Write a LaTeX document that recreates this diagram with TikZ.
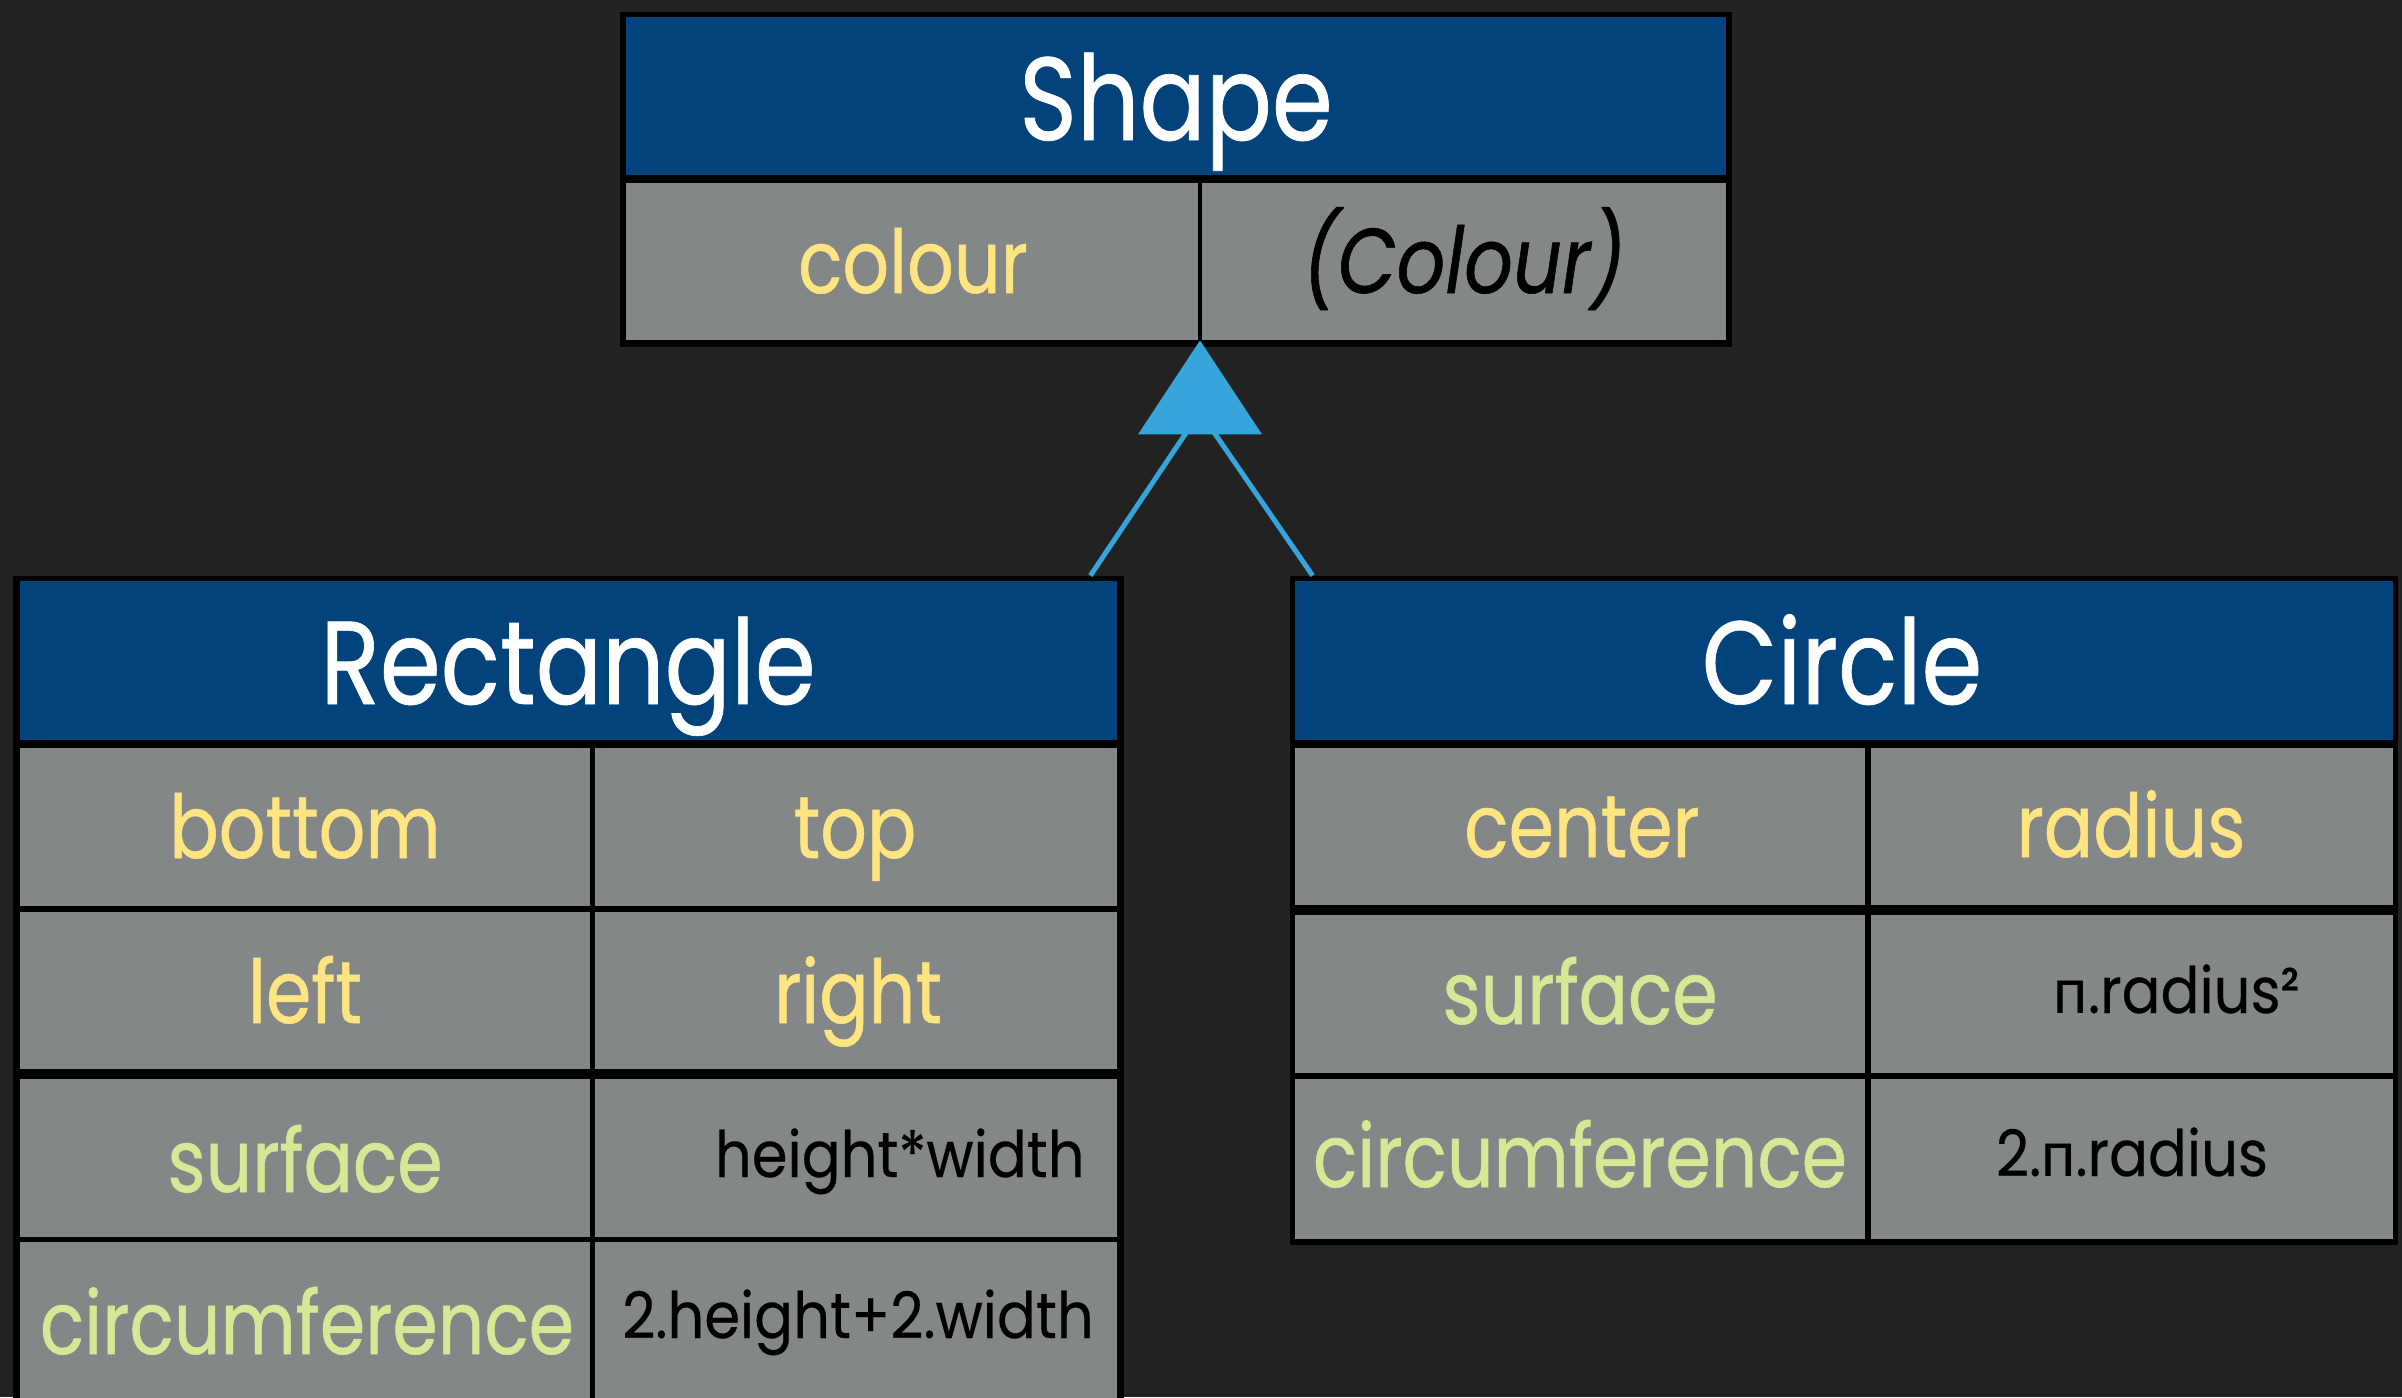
\documentclass[tikz,border=0pt]{standalone}
\usepackage{fontspec}
\setmainfont{Poppins}[FakeStretch=0.83, FakeBold=0.6]
\newfontfamily\exprfont{Poppins}[FakeStretch=0.9, FakeBold=0.3]
\newfontfamily\cyrfont{Lato}[FakeStretch=0.95]
\usetikzlibrary{fit,calc}

\definecolor{bg}{HTML}{222222}
\definecolor{headblue}{HTML}{01437A}
\definecolor{cellgray}{HTML}{838787}
\definecolor{attryellow}{HTML}{FEE582}
\definecolor{methgreen}{HTML}{D6E796}
\definecolor{linkblue}{HTML}{35A5DB}

\tikzset{
  frame/.style={fill=black, inner sep=0pt},
  head/.style={fill=headblue, inner sep=0pt},
  cell/.style={fill=cellgray, inner sep=0pt},
  title/.style={anchor=base, inner sep=0pt, text=white, font=\fontsize{59}{59}\selectfont},
  attr/.style={anchor=base, inner sep=0pt, text=attryellow, font=\fontsize{44}{44}\selectfont},
  meth/.style={anchor=base, inner sep=0pt, text=methgreen, font=\fontsize{44}{44}\selectfont},
  typ/.style={anchor=base, inner sep=0pt, text=black, font=\fontsize{46}{46}\selectfont\itshape},
  expr/.style={anchor=base, inner sep=0pt, text=black, font=\exprfont\fontsize{32}{32}\selectfont},
  link/.style={draw=linkblue, line width=2.5pt},
}

\begin{document}
\begin{tikzpicture}[x=0.5pt, y=-0.5pt]
  \useasboundingbox (0,0) rectangle (2402,1397);
  \clip (0,0) rectangle (2402,1397);
  \fill[bg] (0,0) rectangle (2402,1397);

  % ---- class Shape ----
  \node[frame, fit={(620,12) (1732,347)}] (shapeFrame) {};
  \node[head, fit={(626,17) (1726,175)}] (shapeHead) {};
  \node[cell, fit={(626,183) (1198,340)}] (shapeKey) {};
  \node[cell, fit={(1202,183) (1726,340)}] (shapeType) {};
  \node[title] (shapeName) at (1176,140) {Shape};
  \node[attr] (shapeColour) at (913,293) {colour};
  \node[typ] (shapeColourT) at (1464,293) {(Colour)};

  % ---- class Rectangle ----
  \node[frame, fit={(13,576) (1124,1430)}] (rectFrame) {};
  \node[head, fit={(20,581) (1117,740)}] (rectHead) {};
  \node[cell, fit={(20,748) (590,906)}] (rectA1) {};
  \node[cell, fit={(595,748) (1117,906)}] (rectB1) {};
  \node[cell, fit={(20,912) (590,1069)}] (rectA2) {};
  \node[cell, fit={(595,912) (1117,1069)}] (rectB2) {};
  \node[cell, fit={(20,1079) (590,1237)}] (rectA3) {};
  \node[cell, fit={(595,1079) (1117,1237)}] (rectB3) {};
  \node[cell, fit={(20,1242) (590,1420)}] (rectA4) {};
  \node[cell, fit={(595,1242) (1117,1420)}] (rectB4) {};
  \node[title] (rectName) at (568,704) {Rectangle};
  \node[attr] (rectBottom) at (305,858) {bottom};
  \node[attr] (rectTop) at (855,858) {top};
  \node[attr] (rectLeft) at (305,1023) {left};
  \node[attr] (rectRight) at (858,1023) {right};
  \node[meth] (rectSurface) at (305,1192) {surface};
  \node[expr, anchor=base east] (rectSurfaceE) at (1085,1177) {height*width};
  \node[meth] (rectCirc) at (307,1354) {circumference};
  \node[expr] (rectCircE) at (858,1338) {2.height+2.width};

  % ---- class Circle ----
  \node[frame, fit={(1290,576) (2398,1245)}] (circFrame) {};
  \node[head, fit={(1295,581) (2393,740)}] (circHead) {};
  \node[cell, fit={(1295,748) (1865,905)}] (circA1) {};
  \node[cell, fit={(1871,748) (2393,905)}] (circB1) {};
  \node[cell, fit={(1295,915) (1865,1073)}] (circA2) {};
  \node[cell, fit={(1871,915) (2393,1073)}] (circB2) {};
  \node[cell, fit={(1295,1079) (1865,1239)}] (circA3) {};
  \node[cell, fit={(1871,1079) (2393,1239)}] (circB3) {};
  \node[title] (circName) at (1842,704) {Circle};
  \node[attr] (circCenter) at (1582,857) {center};
  \node[attr] (circRadius) at (2131,857) {radius};
  \node[meth] (circSurface) at (1580,1024) {surface};
  \node[expr, anchor=base east] (circSurfaceE) at (2300,1013) {{\cyrfont п}.radius²};
  \node[meth] (circCirc) at (1580,1187) {circumference};
  \node[expr] (circCircE) at (2132,1176) {2.{\cyrfont п}.radius};

  % ---- inheritance: Rectangle, Circle -> Shape ----
  \coordinate (hub) at (1200,412);
  \draw[link] ($(rectFrame.north east)+(-34,0)$) -- (hub);
  \draw[link] ($(circFrame.north west)+(23,0)$) -- (hub);
  \coordinate (tip) at ($(shapeKey.south east)!0.5!(shapeType.south west)$);
  \fill[linkblue] (tip) -- ++(-62,94) -- ++(124,0) -- cycle;
\end{tikzpicture}
\end{document}
